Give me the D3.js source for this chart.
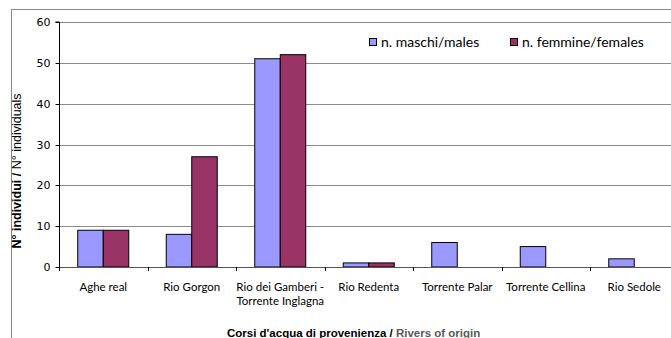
<!DOCTYPE html>
<html><head><meta charset="utf-8">
<script src="https://cdn.jsdelivr.net/npm/d3@7"></script>
<style>
body{margin:0;background:#fff;}
svg{display:block;}
</style></head>
<body>
<svg id="c" width="671" height="338"></svg>
<script>
const categories = [["Aghe real"],["Rio Gorgon"],["Rio dei Gamberi -","Torrente Inglagna"],["Rio Redenta"],["Torrente Palar"],["Torrente Cellina"],["Rio Sedole"]];
const seriesNames = ["n. maschi/males","n. femmine/females"];
const males = [9,8,51,1,6,5,2];
const females = [9,27,52,1,null,null,null];
const yTicks = [0,10,20,30,40,50,60];
const colors = ["#9999FF","#993366"];

(function(){
const svg = d3.select("#c");
const catFont = "Lato, 'Open Sans', sans-serif";
const numFont = "'DejaVu Sans', Verdana, sans-serif";

// outer frame
svg.append("rect").attr("x",11.5).attr("y",9.5).attr("width",700).attr("height",400)
  .attr("fill","none").attr("stroke","#888").attr("stroke-width",1);

const pl=59, pt=22, pb=267, step=88.5;
const x0 = d3.scaleBand().domain(d3.range(categories.length)).range([pl,pl+step*categories.length]).padding(0);
const x1 = d3.scaleBand().domain([0,1]).range([0,x0.bandwidth()]).paddingInner(0).paddingOuter(0.735);
const y = d3.scaleLinear().domain([0,60]).range([pb,pt]);

// gridlines
svg.append("g").selectAll("line").data(yTicks.filter(d=>d>0)).join("line")
  .attr("x1",pl).attr("x2",680).attr("y1",d=>Math.round(y(d))+0.5).attr("y2",d=>Math.round(y(d))+0.5)
  .attr("stroke","#8c8c8c").attr("stroke-width",1);

// y axis
const ya = svg.append("g").attr("transform",`translate(${pl+0.5},0)`)
  .call(d3.axisLeft(y).tickValues(yTicks).tickSize(4).tickPadding(5));
ya.select(".domain").attr("stroke","#000").attr("d",`M-4,${pt}H0V${pb}`);
ya.selectAll(".tick line").attr("stroke","#000");
ya.selectAll(".tick").attr("transform",d=>`translate(0,${Math.round(y(d))+0.5})`);
ya.selectAll("text").attr("font-family",numFont).attr("font-size",11).attr("fill","#000");

// bars
const data = [males,females];
data.forEach((vals,si)=>{
  svg.append("g").selectAll("rect").data(vals.map((v,i)=>({v,i})).filter(d=>d.v!=null)).join("rect")
    .attr("x",d=>x0(d.i)+x1(si)).attr("width",x1.bandwidth())
    .attr("y",d=>y(d.v)).attr("height",d=>y(0)-y(d.v))
    .attr("fill",colors[si]).attr("stroke","#000").attr("stroke-width",1);
});

// x axis line and ticks
const xa = svg.append("g");
xa.append("line").attr("x1",pl).attr("x2",680).attr("y1",pb+0.5).attr("y2",pb+0.5).attr("stroke","#555");
xa.selectAll("line.t").data(d3.range(categories.length+1)).join("line").attr("class","t")
  .attr("x1",i=>Math.round(pl+i*step)+0.5).attr("x2",i=>Math.round(pl+i*step)+0.5)
  .attr("y1",pb).attr("y2",pb+4).attr("stroke","#000");

// category labels
const cl = svg.append("g").selectAll("text").data(categories).join("text")
  .attr("x",(d,i)=>x0(i)+x0.bandwidth()/2).attr("y",291)
  .attr("text-anchor","middle").attr("font-family",catFont).attr("font-size",11.5).attr("fill","#000");
cl.each(function(d){
  const t=d3.select(this);
  d.forEach((line,k)=>t.append("tspan").attr("x",t.attr("x")).attr("dy",k?14:0).text(line));
});

// legend
const lg = svg.append("g");
const legX=[369,510];
seriesNames.forEach((n,i)=>{
  lg.append("rect").attr("x",legX[i]+0.5).attr("y",38.5).attr("width",7).attr("height",7)
    .attr("fill",colors[i]).attr("stroke","#000");
  lg.append("text").attr("x",legX[i]+12).attr("y",47).attr("font-family",catFont).attr("font-size",14)
    .attr("fill","#000").text(n);
});

// y title
const yt = svg.append("text").attr("transform","translate(21,171) rotate(-90)")
  .attr("text-anchor","middle").attr("font-family","'Liberation Sans', Arial, sans-serif").attr("font-size",12.5).attr("fill","#000");
yt.append("tspan").attr("font-weight","bold").text("N° individui / ");
yt.append("tspan").attr("font-weight","normal").text("N° individuals");

// x title
const xt = svg.append("text").attr("x",227).attr("y",337)
  .attr("font-family","'Liberation Sans', Arial, sans-serif").attr("font-size",11.5).attr("font-weight","bold").attr("fill","#000");
xt.append("tspan").text("Corsi d'acqua di provenienza / ");
xt.append("tspan").attr("fill","#595959").text("Rivers of origin");
})();
</script>
</body></html>
